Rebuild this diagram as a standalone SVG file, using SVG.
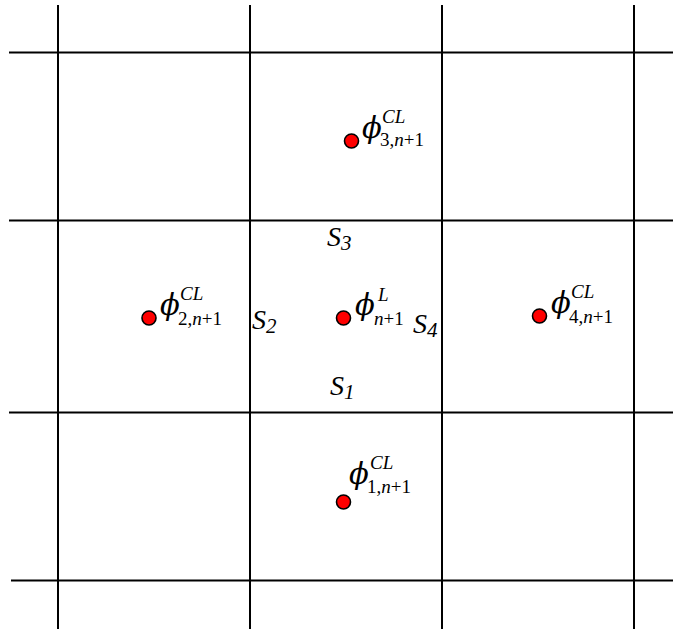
<svg xmlns="http://www.w3.org/2000/svg" width="673" height="630" viewBox="0 0 673 630">
<style>
.g{stroke:#000;stroke-width:2;fill:none}
.dot{fill:#f00;stroke:#000;stroke-width:1.6}
.lab{font-family:"Liberation Serif",serif;fill:#000}
.phi{font-family:"DejaVu Serif",serif;font-style:italic;font-size:29px}
.sup{font-style:italic;font-size:19px}
.sub{font-size:19px}
.it{font-style:italic}
.S{font-family:"Liberation Serif",serif;font-style:italic;font-size:28px;fill:#000}
.Ss{font-size:21px}
</style>
<rect width="673" height="630" fill="#fff"/>
<g id="grid">
<line class="g" x1="9" y1="52.5" x2="673" y2="52.5"/>
<line class="g" x1="9" y1="220.5" x2="673" y2="220.5"/>
<line class="g" x1="9" y1="412.5" x2="673" y2="412.5"/>
<line class="g" x1="11" y1="580.5" x2="673" y2="580.5"/>
<line class="g" x1="58" y1="5" x2="58" y2="629"/>
<line class="g" x1="250" y1="5" x2="250" y2="629"/>
<line class="g" x1="442" y1="5" x2="442" y2="629"/>
<line class="g" x1="634" y1="5" x2="634" y2="629"/>
</g>
<g id="n3">
<circle class="dot" cx="351.5" cy="141" r="7"/>
<text class="lab" x="362" y="138"><tspan class="phi">ϕ</tspan><tspan class="sup" x="382" y="123">CL</tspan><tspan class="sub" x="380" y="146">3,<tspan class="it">n</tspan>+1</tspan></text>
</g>
<g id="n2">
<circle class="dot" cx="149" cy="318" r="7"/>
<text class="lab" x="160" y="315"><tspan class="phi">ϕ</tspan><tspan class="sup" x="180" y="300">CL</tspan><tspan class="sub" x="178" y="325">2,<tspan class="it">n</tspan>+1</tspan></text>
</g>
<g id="nc">
<circle class="dot" cx="343.5" cy="318" r="7"/>
<text class="lab" x="355" y="315"><tspan class="phi">ϕ</tspan><tspan class="sup" x="378" y="301">L</tspan><tspan class="sub" x="374" y="325"><tspan class="it">n</tspan>+1</tspan></text>
</g>
<g id="n4">
<circle class="dot" cx="539.5" cy="316" r="7"/>
<text class="lab" x="551" y="313"><tspan class="phi">ϕ</tspan><tspan class="sup" x="571" y="298">CL</tspan><tspan class="sub" x="569" y="323">4,<tspan class="it">n</tspan>+1</tspan></text>
</g>
<g id="n1">
<circle class="dot" cx="343.5" cy="502" r="7"/>
<text class="lab" x="349" y="484"><tspan class="phi">ϕ</tspan><tspan class="sup" x="370" y="469">CL</tspan><tspan class="sub" x="367" y="493">1,<tspan class="it">n</tspan>+1</tspan></text>
</g>
<g id="faces">
<text class="S" x="327" y="246">S<tspan class="Ss" dy="4">3</tspan></text>
<text class="S" x="252" y="329">S<tspan class="Ss" dy="4">2</tspan></text>
<text class="S" x="413" y="333">S<tspan class="Ss" dy="4">4</tspan></text>
<text class="S" x="330" y="395">S<tspan class="Ss" dy="4">1</tspan></text>
</g>
</svg>
